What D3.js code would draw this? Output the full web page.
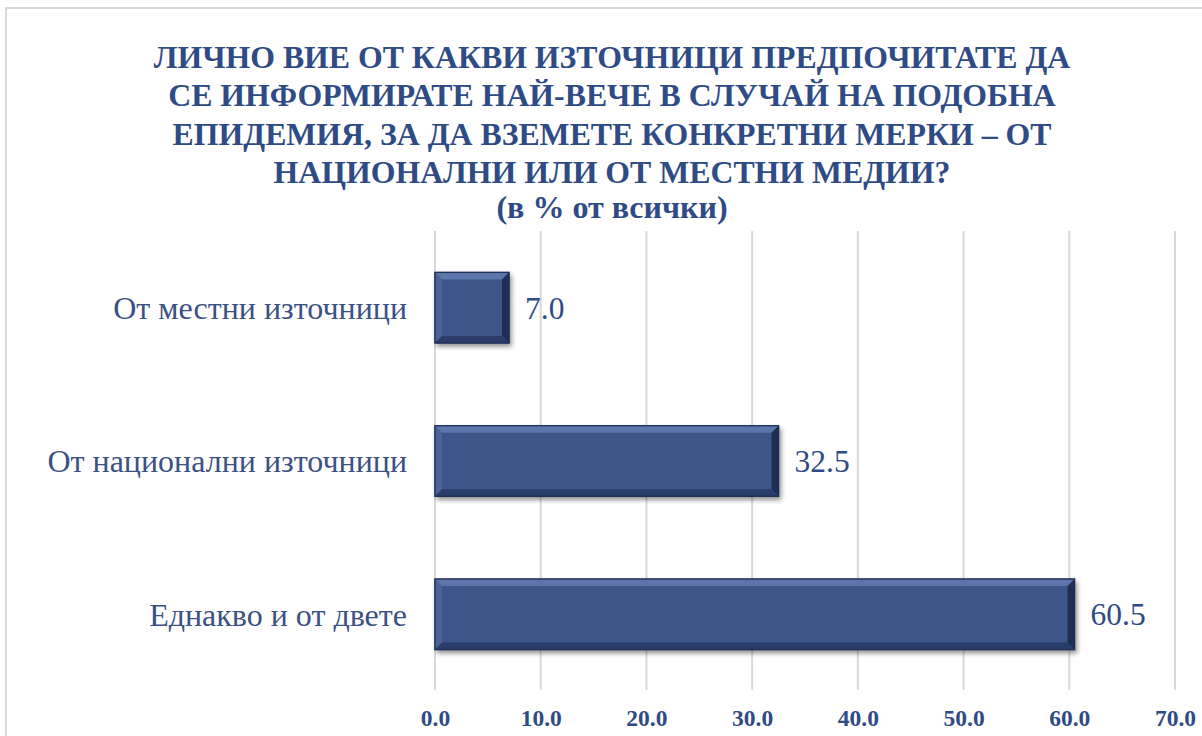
<!DOCTYPE html>
<html><head><meta charset="utf-8">
<script src="https://cdn.jsdelivr.net/npm/d3@7"></script>
<style>
html,body{margin:0;padding:0;background:#fff;}
svg{display:block;}
svg text{font-family:"Liberation Serif","Times New Roman",serif;}
</style></head>
<body>
<svg id="c" width="1202" height="736"></svg>
<script>
const categories = ["От местни източници", "От национални източници", "Еднакво и от двете"];
const values = [7.0, 32.5, 60.5];
const ticks = [0, 10, 20, 30, 40, 50, 60, 70];
const titleLines = [
  "ЛИЧНО ВИЕ ОТ КАКВИ ИЗТОЧНИЦИ ПРЕДПОЧИТАТЕ ДА",
  "СЕ ИНФОРМИРАТЕ НАЙ-ВЕЧЕ В СЛУЧАЙ НА ПОДОБНА",
  "ЕПИДЕМИЯ, ЗА ДА ВЗЕМЕТЕ КОНКРЕТНИ МЕРКИ – ОТ",
  "НАЦИОНАЛНИ ИЛИ ОТ МЕСТНИ МЕДИИ?"
];
const subtitle = "(в % от всички)";

const svg = d3.select("#c");
const blue = "#2F4B85";
const barColor = "#3D5589";

// frame
svg.append("rect").attr("x",6).attr("y",8).attr("width",1210).attr("height",740)
  .attr("fill","none").attr("stroke","#d9d9d9").attr("stroke-width",2);

// title
const tg = svg.append("g").attr("fill",blue).attr("font-weight","bold").attr("text-anchor","middle");
titleLines.forEach((t,i)=>{
  tg.append("text").attr("x",612).attr("y",68+i*38.3).attr("font-size",31.8).text(t);
});
tg.append("text").attr("x",612).attr("y",218).attr("font-size",32).text(subtitle);

const x = d3.scaleLinear().domain([0,70]).range([435,1175]);
const y = d3.scaleBand().domain(categories).range([231,691]).paddingInner(0.54).paddingOuter(0.27);

// gridlines
svg.append("g").selectAll("line").data(ticks).join("line")
  .attr("x1",d=>x(d)).attr("x2",d=>x(d)).attr("y1",231).attr("y2",690)
  .attr("stroke","#d9d9d9").attr("stroke-width",2);

// axis labels
const ax = svg.append("g").attr("transform","translate(0,726)")
  .call(d3.axisBottom(x).tickValues(ticks).tickSize(0).tickPadding(0).tickFormat(d3.format(".1f")));
ax.attr("font-family",null).attr("font-size",null);
ax.select(".domain").remove();
ax.selectAll("text").attr("font-size",23.5)
  .attr("font-weight","bold").attr("fill",blue).attr("dy",0).attr("y",0);

// defs
const defs = svg.append("defs");
const f = defs.append("filter").attr("id","sh").attr("x","-10%").attr("y","-20%").attr("width","130%").attr("height","150%");
f.append("feGaussianBlur").attr("in","SourceAlpha").attr("stdDeviation",2.5);
f.append("feOffset").attr("dx",2).attr("dy",3).attr("result","b");
f.append("feComponentTransfer").append("feFuncA").attr("type","linear").attr("slope",0.45);
const m = f.append("feMerge"); m.append("feMergeNode"); m.append("feMergeNode").attr("in","SourceGraphic");

// bars
const bars = svg.append("g").selectAll("g").data(categories).join("g");
bars.each(function(c,i){
  const g = d3.select(this);
  const x0 = x(0), x1 = x(values[i]), y0 = y(c), h = y.bandwidth(), w = x1-x0;
  const b = 7;
  g.append("rect").attr("x",x0).attr("y",y0).attr("width",w).attr("height",h)
    .attr("fill",barColor).attr("stroke","#24355e").attr("stroke-width",1.2).attr("filter","url(#sh)");
  g.append("polygon").attr("points",[[x0,y0],[x1,y0],[x1-b,y0+b],[x0+b,y0+b]].join(" ")).attr("fill","#5C76AB");
  g.append("polygon").attr("points",[[x0,y0],[x0+b,y0+b],[x0+b,y0+h-b],[x0,y0+h]].join(" ")).attr("fill","#4A639A");
  g.append("polygon").attr("points",[[x1,y0],[x1,y0+h],[x1-b,y0+h-b],[x1-b,y0+b]].join(" ")).attr("fill","#1F2D52");
  g.append("polygon").attr("points",[[x0,y0+h],[x1,y0+h],[x1-b,y0+h-b],[x0+b,y0+h-b]].join(" ")).attr("fill","#2A3C69");
  g.append("rect").attr("x",x0).attr("y",y0).attr("width",w).attr("height",h)
    .attr("fill","none").attr("stroke","#1f2e55").attr("stroke-width",1.2);
  g.append("text").attr("x",x1+16).attr("y",y0+h/2).attr("dy","0.35em")
    .attr("font-size",31.5).attr("fill",blue).text(d3.format(".1f")(values[i]));
  g.append("text").attr("x",407).attr("y",y0+h/2).attr("dy","0.35em").attr("text-anchor","end")
    .attr("font-size",32).attr("fill","#3B5185").text(c);
});
</script>
</body></html>
